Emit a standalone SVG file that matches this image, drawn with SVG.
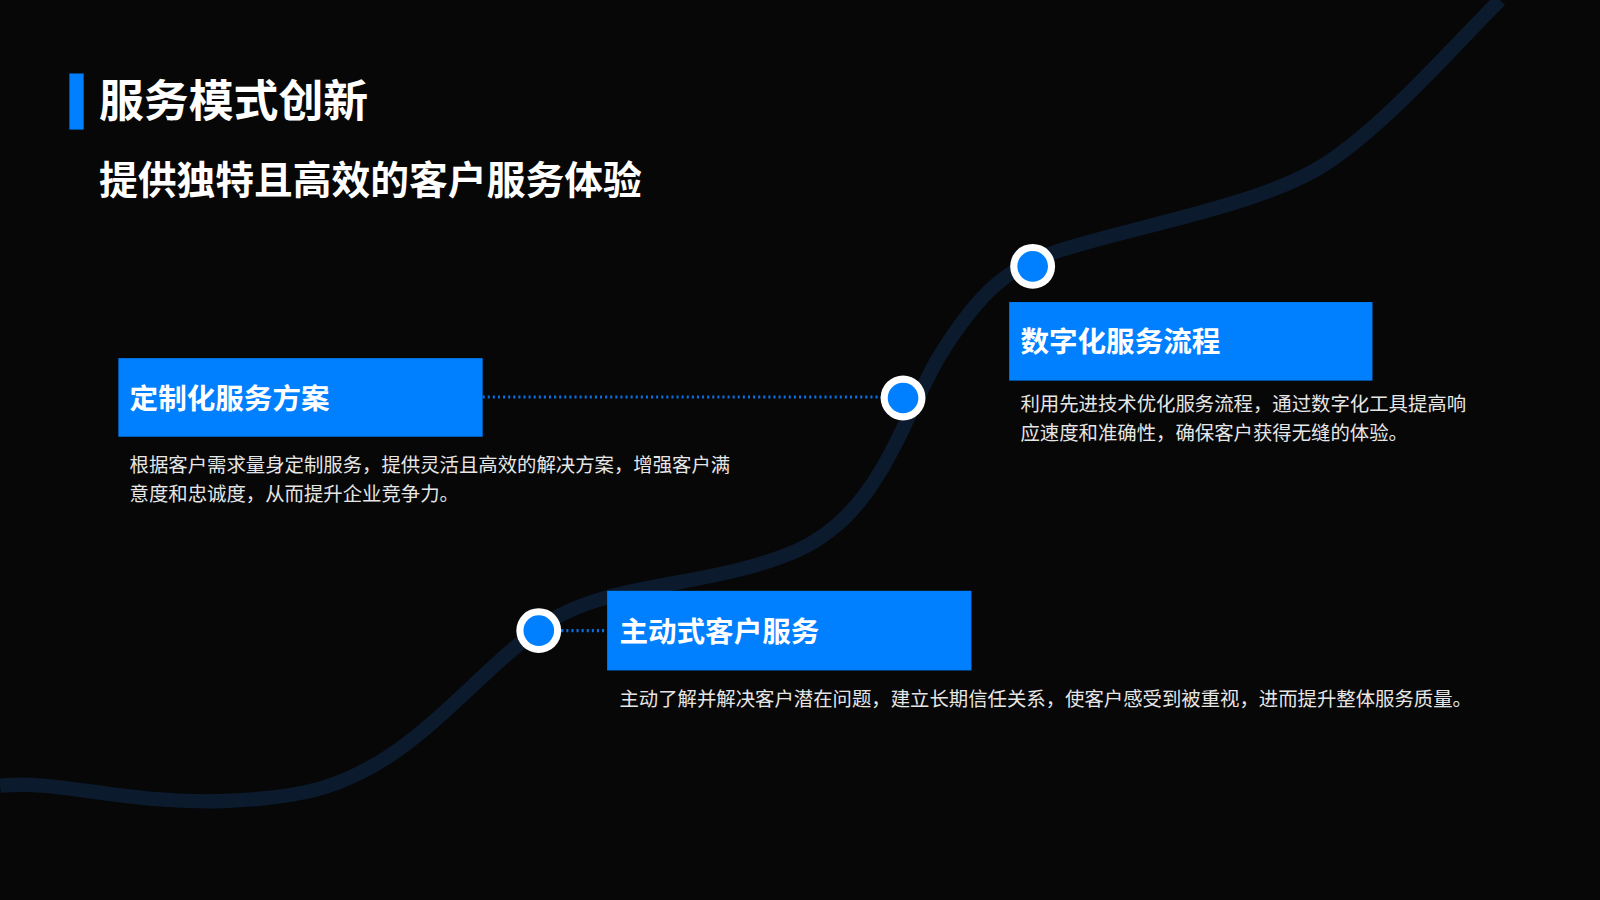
<svg xmlns="http://www.w3.org/2000/svg" width="1600" height="900" viewBox="0 0 1600 900">
<style>
.h{font-family:"Noto Sans CJK SC","Liberation Sans",sans-serif;font-weight:bold;fill:#fff}
.box{fill:#0080ff}
.lab{font-family:"Noto Sans CJK SC","Liberation Sans",sans-serif;font-weight:bold;fill:#fff;font-size:28px}
.d{font-family:"Noto Sans CJK SC","Liberation Sans",sans-serif;fill:#e6e6e6;font-size:19px}
.dot{stroke:#0a6fe0;stroke-width:3;stroke-dasharray:2 3;fill:none}
</style>
<rect width="1600" height="900" fill="#070707"/>
<g transform="scale(1.0204)">
<path d="M0,770 C60,764 120,788 220,785 C300,782 340,770 390,735 C440,700 490,640 540,608 C600,570 700,575 780,540 C860,505 880,420 920,350 C960,285 990,260 1040,245 C1120,220 1240,200 1300,160 C1360,120 1420,50 1470,0" fill="none" stroke="#0b1a2c" stroke-width="14"/>
<rect x="68" y="72" width="14" height="55" fill="#0080ff"/>
<text class="h" x="97" y="115" font-size="44">服务模式创新</text>
<text class="h" x="97" y="190" font-size="38">提供独特且高效的客户服务体验</text>
<g id="connectors">
<line class="dot" x1="473" y1="389" x2="865" y2="389"/>
<line class="dot" x1="550" y1="618" x2="595" y2="618"/>
</g>
<g id="n1">
<rect class="box" x="116" y="351" width="357" height="77"/>
<text class="lab" x="127" y="401">定制化服务方案</text>
<text class="d" x="127" y="463">根据客户需求量身定制服务，提供灵活且高效的解决方案，增强客户满</text>
<text class="d" x="127" y="491">意度和忠诚度，从而提升企业竞争力。</text>
<circle cx="885" cy="390" r="22" fill="#fff"/><circle cx="885" cy="390" r="15" fill="#0080ff"/>
</g>
<g id="n2">
<rect class="box" x="989" y="296" width="356" height="77"/>
<text class="lab" x="1000" y="345">数字化服务流程</text>
<text class="d" x="1000" y="403">利用先进技术优化服务流程，通过数字化工具提高响</text>
<text class="d" x="1000" y="431">应速度和准确性，确保客户获得无缝的体验。</text>
<circle cx="1012" cy="261" r="22" fill="#fff"/><circle cx="1012" cy="261" r="15" fill="#0080ff"/>
</g>
<g id="n3">
<rect class="box" x="595" y="579" width="357" height="78"/>
<text class="lab" x="607" y="629">主动式客户服务</text>
<text class="d" x="607" y="692">主动了解并解决客户潜在问题，建立长期信任关系，使客户感受到被重视，进而提升整体服务质量。</text>
<circle cx="528" cy="618" r="22" fill="#fff"/><circle cx="528" cy="618" r="15" fill="#0080ff"/>
</g>
</g>
</svg>
